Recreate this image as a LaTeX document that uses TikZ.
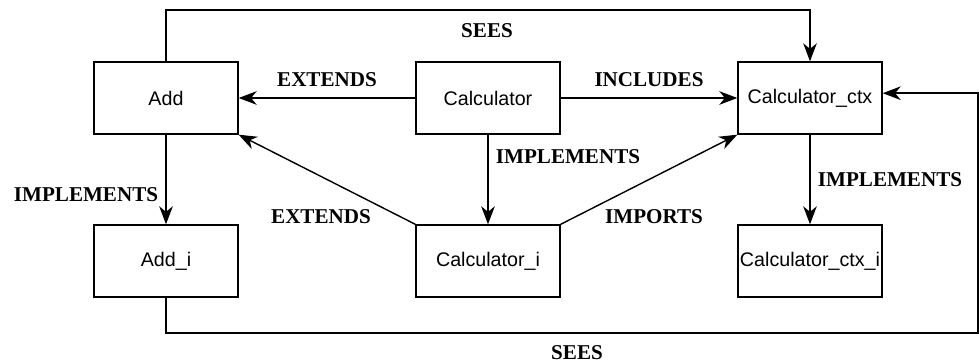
\documentclass[tikz,border=0pt]{standalone}
\usepackage{fontspec}
\setmainfont{Liberation Serif}
\newfontfamily\boxfont{Liberation Sans}
\usetikzlibrary{arrows.meta}

\begin{document}
\begin{tikzpicture}[
line width=1pt,
>={Stealth[length=4.5mm,width=3.4mm,inset=1.4mm]},
box/.style={draw, minimum width=3.6cm, minimum height=1.8cm, inner sep=0pt,
  font=\boxfont\fontsize{14}{16}\selectfont},
lbl/.style={inner sep=0pt, font=\bfseries\fontsize{15}{17}\selectfont}
]
\useasboundingbox (0,0) rectangle (24.475,-9.075);

\node[box](add) at(4.15,-2.45) {Add};
\node[box](calc) at(12.2,-2.45) {Calculator};
\node[box](ctx) at(20.25,-2.45) {Calculator\_ctx};
\node[box](addi) at(4.15,-6.525) {Add\_i};
\node[box](calci) at(12.2,-6.525) {Calculator\_i};
\node[box](ctxi) at(20.25,-6.525) {Calculator\_ctx\_i};

\coordinate(top) at(12.2,-0.25);
\coordinate(corner) at(24.45,-8.325);

\draw[->] (add.north) |- (top) -| (ctx.north);
\draw[->] (calc.west) -- (add.east);
\draw[->] (calc.east) -- (ctx.west);
\draw[->] (calc.south) -- (calci.north);
\draw[->] (add.south) -- (addi.north);
\draw[->] (calci.north west) -- (add.south east);
\draw[->] (calci.north east) -- (ctx.south west);
\draw[->] (ctx.south) -- (ctxi.north);
\draw[->] (addi.south) |- (corner) |- ([yshift=0.12cm]ctx.east);

\node[lbl](sees1) at(12.175,-0.775) {SEES};
\node[lbl](ext1) at(8.175,-2.0) {EXTENDS};
\node[lbl](inc) at(16.225,-2.0) {INCLUDES};
\node[lbl](impl1) at(14.2,-3.925) {IMPLEMENTS};
\node[lbl](impl2) at(2.15,-4.875) {IMPLEMENTS};
\node[lbl](ext2) at(8.025,-5.425) {EXTENDS};
\node[lbl](imp) at(16.35,-5.425) {IMPORTS};
\node[lbl](impl3) at(22.25,-4.5) {IMPLEMENTS};
\node[lbl](sees2) at(14.425,-8.825) {SEES};

\end{tikzpicture}
\end{document}
